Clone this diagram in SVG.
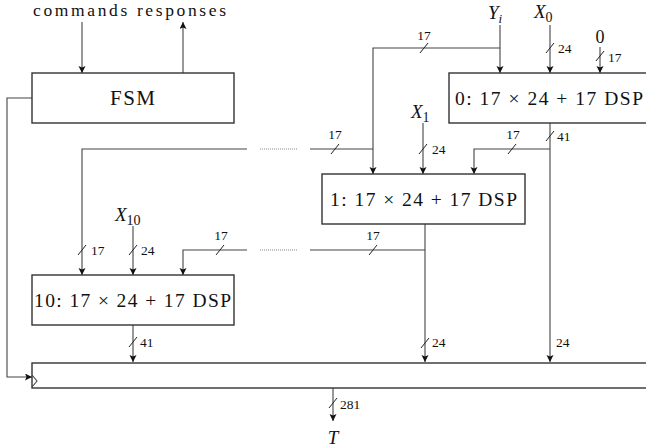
<svg xmlns="http://www.w3.org/2000/svg" width="646" height="448" viewBox="0 0 646 448">
<defs>
<marker id="ah" markerWidth="8" markerHeight="8" refX="7" refY="3.5" orient="auto" markerUnits="userSpaceOnUse">
<path d="M0,0 L7,3.5 L0,7 L1.5,3.5 Z" fill="#111"/>
</marker>
</defs>
<style>
.box{fill:#fff;stroke:#333;stroke-width:1.4}
.ln{fill:none;stroke:#444;stroke-width:1.1}
.ar{fill:none;stroke:#444;stroke-width:1.1;marker-end:url(#ah)}
.sl{stroke:#222;stroke-width:1}
.dot{fill:none;stroke:#888;stroke-width:1;stroke-dasharray:1 1}
.t{font-family:"Liberation Serif",serif;fill:#111}
.big{font-size:19px}
.sm{font-size:13.5px}
.it{font-style:italic}
</style>
<rect width="646" height="448" fill="#fff"/>

<g id="connectors">
<path class="ar" d="M82,22 V73"/>
<path class="ar" d="M183,73 V22"/>
<path class="ar" d="M32,98 H7 V377 H32"/>
<path class="ar" d="M500,25 V73"/>
<path class="ar" d="M500,48 H373 V174"/>
<line class="sl" x1="420" y1="53" x2="428" y2="43"/>
<path class="ar" d="M550,25 V73"/>
<line class="sl" x1="546" y1="53" x2="554" y2="43"/>
<path class="ar" d="M600,47 V73"/>
<line class="sl" x1="596" y1="61" x2="604" y2="51"/>
<path class="ar" d="M550,123 V362"/>
<line class="sl" x1="546" y1="141" x2="554" y2="131"/>
<path class="ar" d="M550,149 H474 V174"/>
<line class="sl" x1="508" y1="154" x2="516" y2="144"/>
<path class="ar" d="M423,123 V174"/>
<line class="sl" x1="419" y1="154" x2="427" y2="144"/>
<path class="ln" d="M373,149 H310"/>
<line class="sl" x1="331" y1="154" x2="339" y2="144"/>
<path class="dot" d="M260,149 H298"/>
<path class="ar" d="M247,149 H82 V275"/>
<line class="sl" x1="78" y1="255" x2="86" y2="245"/>
<path class="ar" d="M133,226 V275"/>
<line class="sl" x1="129" y1="255" x2="137" y2="245"/>
<path class="ar" d="M425,224 V362"/>
<line class="sl" x1="421" y1="348" x2="429" y2="338"/>
<path class="ln" d="M425,250 H310"/>
<line class="sl" x1="369" y1="255" x2="377" y2="245"/>
<path class="dot" d="M260,250 H298"/>
<path class="ar" d="M247,250 H183 V275"/>
<line class="sl" x1="216" y1="255" x2="224" y2="245"/>
<path class="ar" d="M133,325 V362"/>
<line class="sl" x1="129" y1="347" x2="137" y2="337"/>
<path class="ar" d="M333,388 V421"/>
<line class="sl" x1="329" y1="408" x2="337" y2="398"/>
</g>

<g id="labels">
<text class="t" x="33" y="16" font-size="17.5" textLength="193" lengthAdjust="spacing">commands responses</text>
<text class="t big" x="488" y="19"><tspan class="it">Y</tspan><tspan class="it" font-size="13" dy="4">i</tspan></text>
<text class="t big" x="534" y="18"><tspan class="it">X</tspan><tspan font-size="14" dy="4">0</tspan></text>
<text class="t" x="600" y="43" font-size="18" text-anchor="middle">0</text>
<text class="t sm" x="424" y="40" text-anchor="middle">17</text>
<text class="t sm" x="558" y="53">24</text>
<text class="t sm" x="608" y="62">17</text>
<text class="t sm" x="557" y="141">41</text>
<text class="t sm" x="513" y="139" text-anchor="middle">17</text>
<text class="t big" x="411" y="118"><tspan class="it">X</tspan><tspan font-size="14" dy="4">1</tspan></text>
<text class="t sm" x="432" y="154">24</text>
<text class="t sm" x="335" y="139" text-anchor="middle">17</text>
<text class="t big" x="115" y="221"><tspan class="it">X</tspan><tspan font-size="14" dy="4">10</tspan></text>
<text class="t sm" x="91" y="255">17</text>
<text class="t sm" x="141" y="255">24</text>
<text class="t sm" x="221" y="240" text-anchor="middle">17</text>
<text class="t sm" x="373" y="240" text-anchor="middle">17</text>
<text class="t sm" x="140" y="347">41</text>
<text class="t sm" x="432" y="347">24</text>
<text class="t sm" x="556" y="347">24</text>
<text class="t sm" x="340" y="409">281</text>
<text class="t big it" x="333" y="444" text-anchor="middle">T</text>
</g>

<g id="fsm">
<rect class="box" x="32" y="73" width="202" height="50"/>
<text class="t" x="110" y="105" font-size="21" textLength="45" lengthAdjust="spacing">FSM</text>
</g>

<g id="dsp0">
<rect class="box" x="449" y="73" width="210" height="50"/>
<text class="t" x="455" y="105" font-size="19.5" textLength="188" lengthAdjust="spacing">0: 17 × 24 + 17 DSP</text>
</g>

<g id="dsp1">
<rect class="box" x="322" y="174" width="203" height="50"/>
<text class="t" x="330" y="206" font-size="19.5" textLength="187" lengthAdjust="spacing">1: 17 × 24 + 17 DSP</text>
</g>

<g id="dsp10">
<rect class="box" x="32" y="275" width="202" height="50"/>
<text class="t" x="34" y="307" font-size="19.5" textLength="197" lengthAdjust="spacing">10: 17 × 24 + 17 DSP</text>
</g>

<g id="register">
<rect class="box" x="32" y="363" width="630" height="25"/>
<path class="ln" d="M32,375 L37,381 L32,387" stroke="#333"/>
</g>
</svg>
